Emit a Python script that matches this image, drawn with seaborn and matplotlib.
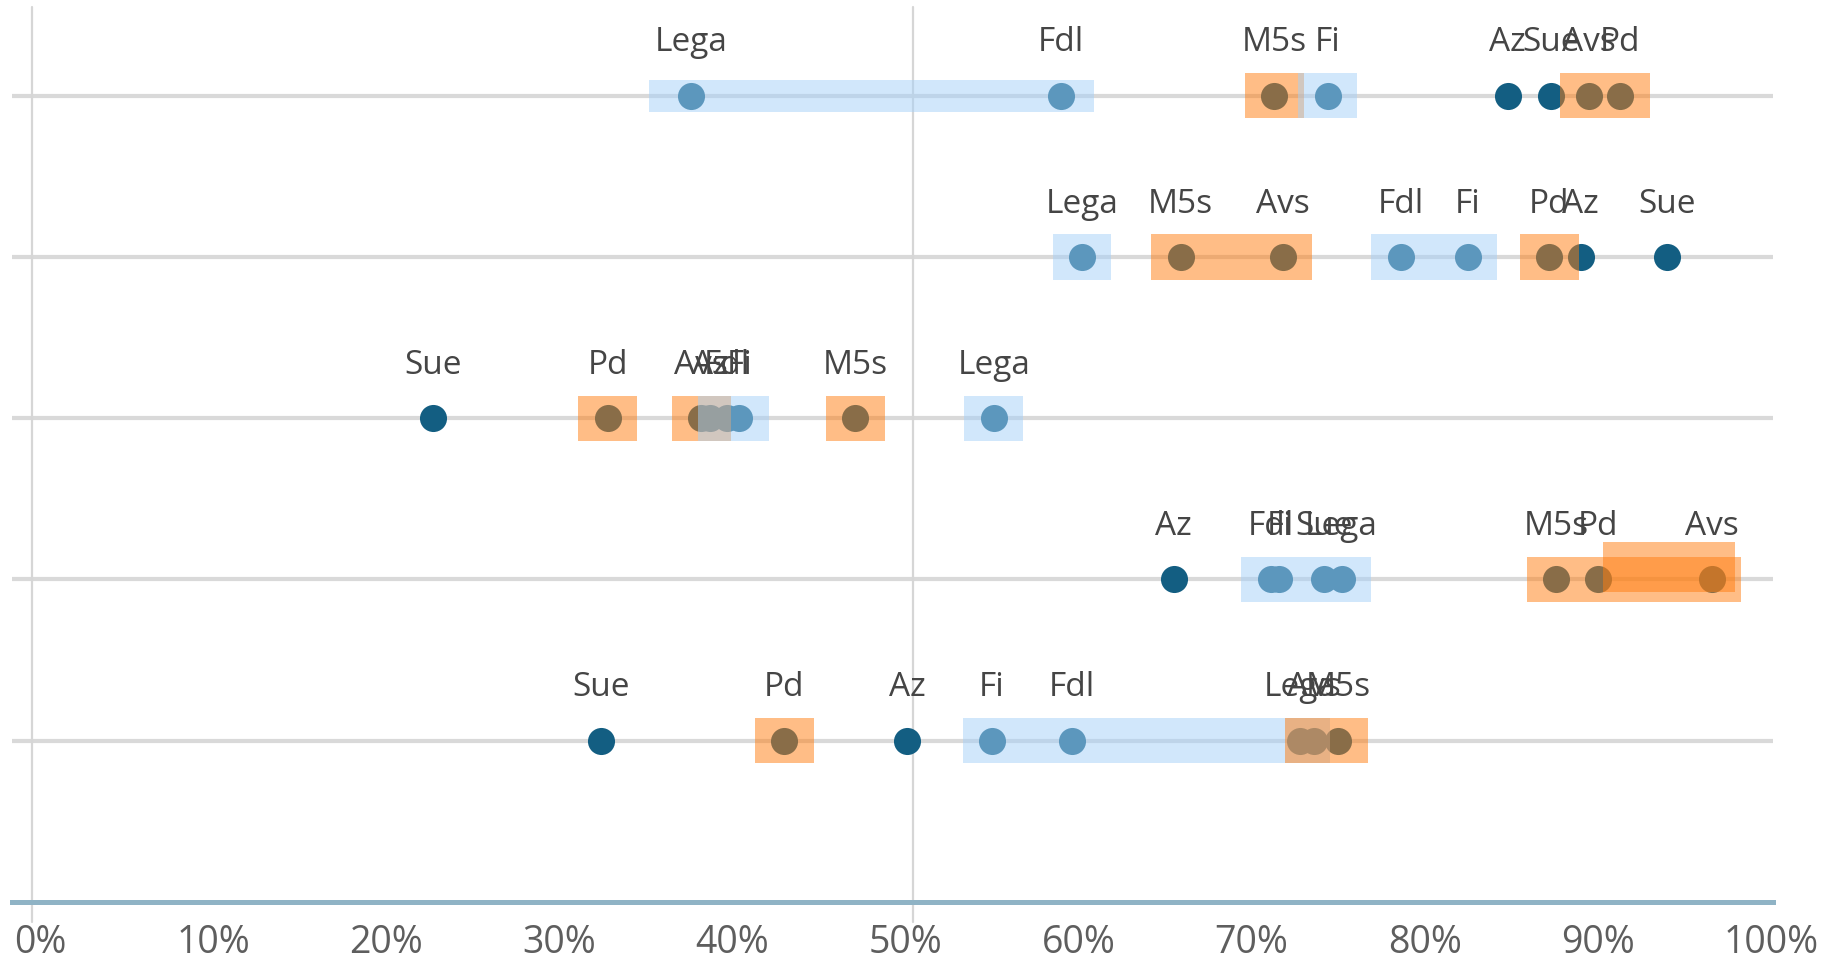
import matplotlib
matplotlib.use("Agg")
import matplotlib.pyplot as plt
import matplotlib.transforms as mtransforms
from matplotlib.patches import Rectangle
import seaborn as sns
import pandas as pd

# 데이터
PARTIES = ["Lega", "Fdl", "M5s", "Fi", "Az", "Sue", "Avs", "Pd"]

ROW_1 = [37.6, 59.0, 71.3, 74.4, 84.8, 87.3, 89.5, 91.3]
ROW_2 = [60.2, 78.6, 65.9, 82.5, 89.0, 94.0, 71.8, 87.2]
ROW_3 = [55.1, 39.7, 47.1, 40.4, 38.7, 22.7, 38.2, 32.8]
ROW_4 = [75.2, 71.1, 87.6, 71.6, 65.5, 74.2, 96.6, 90.0]
ROW_5 = [72.8, 59.6, 75.0, 55.0, 50.1, 32.4, 73.6, 43.0]

ROWS = [ROW_1, ROW_2, ROW_3, ROW_4, ROW_5]
X_TICKS = [0, 10, 20, 30, 40, 50, 60, 70, 80, 90, 100]
X_TICK_LABELS = [f"{t}%" for t in X_TICKS]

# 형광펜 표시 (행, 정당 그룹, 색)
HIGHLIGHTS = [
    (0, ["Lega", "Fdl"], "blue"),
    (0, ["M5s"], "orange"),
    (0, ["Fi"], "blue"),
    (0, ["Avs", "Pd"], "orange"),
    (1, ["Lega"], "blue"),
    (1, ["M5s", "Avs"], "orange"),
    (1, ["Fdl", "Fi"], "blue"),
    (1, ["Pd"], "orange"),
    (2, ["Pd"], "orange"),
    (2, ["Avs"], "orange"),
    (2, ["Fdl", "Fi"], "blue"),
    (2, ["M5s"], "orange"),
    (2, ["Lega"], "blue"),
    (3, ["Fdl", "Fi", "Sue", "Lega"], "blue"),
    (3, ["M5s", "Pd", "Avs"], "orange"),
    (4, ["Pd"], "orange"),
    (4, ["Fi", "Fdl", "Lega"], "blue"),
    (4, ["Avs", "M5s"], "orange"),
]
# 덧칠 (행, 정당 그룹, 색, 왼쪽/오른쪽 여백, 위/아래)
EXTRA_STROKES = [
    (0, ["Lega", "Fdl"], "blue", 2.4, 1.9, 0.10, 0.10),
    (3, ["Pd", "Avs"], "orange", -0.3, 1.3, 0.23, 0.08),
]

DOT_COLOR = "#135e82"
HL_COLORS = {"orange": "#ff7d0f", "blue": "#a5d1f9"}

df = pd.DataFrame(
    [(r, p, v) for r, vals in enumerate(ROWS) for p, v in zip(PARTIES, vals)],
    columns=["row", "party", "value"],
)

sns.set_theme(style="white")
plt.rcParams["font.family"] = ["Open Sans", "DejaVu Sans"]

W, H = 1826, 971
fig = plt.figure(figsize=(W / 100, H / 100), dpi=100)
ax = fig.add_axes([12 / W, 69 / H, (1773 - 12) / W, (902 - 7) / H])

ax.set_xlim(-1.62, 100.12)
ax.set_ylim(5, -0.55)

# 격자선
for r in range(len(ROWS)):
    ax.axhline(r, color="#d9d9d9", lw=3, zorder=0)
# 세로 기준선 (원본에서 눈금 글자보다 살짝 바깥쪽에 그려짐)
for xv, shift in ((0, -8), (50, 8)):
    tr = ax.get_xaxis_transform() + mtransforms.ScaledTranslation(shift / 100, 0, fig.dpi_scale_trans)
    ax.plot([xv, xv], [-0.022, 1], transform=tr, color="#d6d6d6", lw=1.6,
            zorder=0, clip_on=False)

sns.scatterplot(data=df, x="value", y="row", color=DOT_COLOR, s=380,
                linewidth=0, legend=False, ax=ax, zorder=2)


def highlight(row, parties, color, left=1.7, right=1.7, up=0.14, down=0.14):
    vals = df[(df.row == row) & (df.party.isin(parties))]["value"]
    x0, x1 = vals.min() - left, vals.max() + right
    ax.add_patch(Rectangle((x0, row - up), x1 - x0, up + down,
                           facecolor=HL_COLORS[color], alpha=0.5,
                           edgecolor="none", zorder=3))


for row, parties, color in HIGHLIGHTS:
    if row == 0 and parties == ["Lega", "Fdl"]:
        continue
    highlight(row, parties, color)
for row, parties, color, l, rr, up, dn in EXTRA_STROKES:
    highlight(row, parties, color, l, rr, up, dn)

# 정당 라벨
for _, d in df.iterrows():
    ax.annotate(d["party"], (d["value"], d["row"]), xytext=(0, 32),
                textcoords="offset points", ha="center", va="baseline",
                fontsize=24, color="#454545", zorder=4)

ax.set_xticks(X_TICKS)
ax.set_xticklabels(X_TICK_LABELS)
ax.set_yticks([])
ax.set_xlabel("")
ax.set_ylabel("")
ax.tick_params(axis="x", length=0, pad=16, labelsize=27, labelcolor="#5e5e5e")

for side in ("top", "left", "right"):
    ax.spines[side].set_visible(False)
ax.spines["bottom"].set_color("#8fb3c5")
ax.spines["bottom"].set_linewidth(3.6)
ax.patch.set_alpha(0)

fig.savefig("out.png", dpi=100)
